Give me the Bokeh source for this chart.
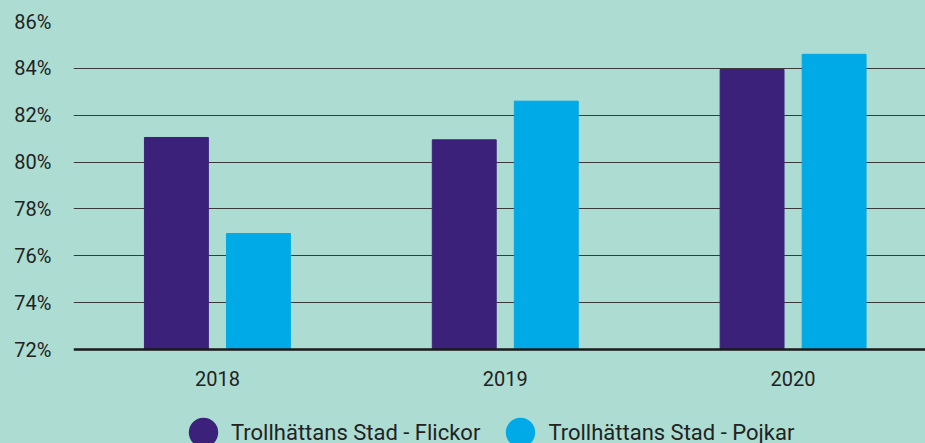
from bokeh.plotting import figure
from bokeh.models import ColumnDataSource, Range1d, FixedTicker, Legend, LegendItem, Span
from bokeh.core.properties import value
from bokeh.transform import dodge
from bokeh.embed import file_html
from bokeh.resources import INLINE

years = ["2018", "2019", "2020"]
flickor = [81.05, 80.95, 83.95]
pojkar = [76.95, 82.6, 84.6]
y_ticks = [72, 74, 76, 78, 80, 82, 84, 86]
y_tick_labels = ["72%", "74%", "76%", "78%", "80%", "82%", "84%", "86%"]
series_names = ["Trollhättans Stad - Flickor", "Trollhättans Stad - Pojkar"]

BG = "#acdcd2"
PURPLE = "#3c217a"
BLUE = "#00aae6"
TEXT = "#222222"
FONT = "Roboto"

# layout geometry (pixels)
W, H = 925, 443
FRAME_LEFT, FRAME_TOP = 73, 21
AXIS_Y = 349                      # pixel row of the 72 % baseline
px_per_unit = (AXIS_Y - FRAME_TOP) / (y_ticks[-1] - y_ticks[0])
y_start = y_ticks[0] - (H - AXIS_Y) / px_per_unit

xs = list(range(len(years)))
base = y_ticks[0]
src = ColumnDataSource(dict(x=xs, flickor=flickor, pojkar=pojkar,
                            base=[base] * len(xs), label=years))

p = figure(width=W, height=H, output_backend="svg", toolbar_location=None,
           x_range=Range1d(-0.5, 2.46), y_range=Range1d(y_start, y_ticks[-1]),
           x_axis_location=None,
           min_border_left=FRAME_LEFT, min_border_right=0, min_border_top=FRAME_TOP,
           min_border_bottom=0)
p.background_fill_color = BG
p.border_fill_color = BG
p.outline_line_color = None
p.styles = {"background-color": BG}

p.vbar(x=dodge("x", -0.1425, range=p.x_range), top="flickor", bottom="base", width=0.222,
       source=src, fill_color=PURPLE, line_color=PURPLE)
p.vbar(x=dodge("x", 0.1425, range=p.x_range), top="pojkar", bottom="base", width=0.222,
       source=src, fill_color=BLUE, line_color=BLUE)

# baseline at 72 %
p.add_layout(Span(location=base, dimension="width", line_color="#1a1a1a", line_width=2.5))

# category labels under the baseline
p.text(x="x", y="base", text="label", source=src, y_offset=29,
       text_align="center", text_baseline="middle",
       text_font=value(FONT), text_font_size="20px", text_color=TEXT)

# legend markers (circle glyphs, outside the visible range)
lsrc = ColumnDataSource(dict(x=[0], y=[y_start - 10]))
c1 = p.scatter(x="x", y="y", source=lsrc, size=10, marker="circle",
               fill_color=PURPLE, line_color=PURPLE, line_width=7)
c2 = p.scatter(x="x", y="y", source=lsrc, size=10, marker="circle",
               fill_color=BLUE, line_color=BLUE, line_width=7)

legend = Legend(items=[LegendItem(label=series_names[0], renderers=[c1]),
                       LegendItem(label=series_names[1], renderers=[c2])],
                orientation="horizontal", location=(102, -17),
                glyph_width=56, glyph_height=56, label_standoff=0, spacing=12,
                padding=0, margin=0, background_fill_alpha=0, border_line_color=None,
                label_text_font=FONT, label_text_font_size="22px", label_text_color=TEXT)
p.add_layout(legend, "center")

p.xgrid.grid_line_color = None
p.ygrid.ticker = FixedTicker(ticks=y_ticks[1:])
p.ygrid.grid_line_color = "#3a3a3a"
p.ygrid.grid_line_width = 1.2

p.yaxis.ticker = FixedTicker(ticks=y_ticks)
p.yaxis.major_label_overrides = {t: l for t, l in zip(y_ticks, y_tick_labels)}
p.yaxis.axis_line_color = None
p.yaxis.major_tick_line_color = None
p.yaxis.minor_tick_line_color = None
p.yaxis.major_label_standoff = 16
p.yaxis.major_label_text_font = FONT
p.yaxis.major_label_text_font_size = "20px"
p.yaxis.major_label_text_color = TEXT

open("out.html", "w").write(file_html(p, INLINE))
